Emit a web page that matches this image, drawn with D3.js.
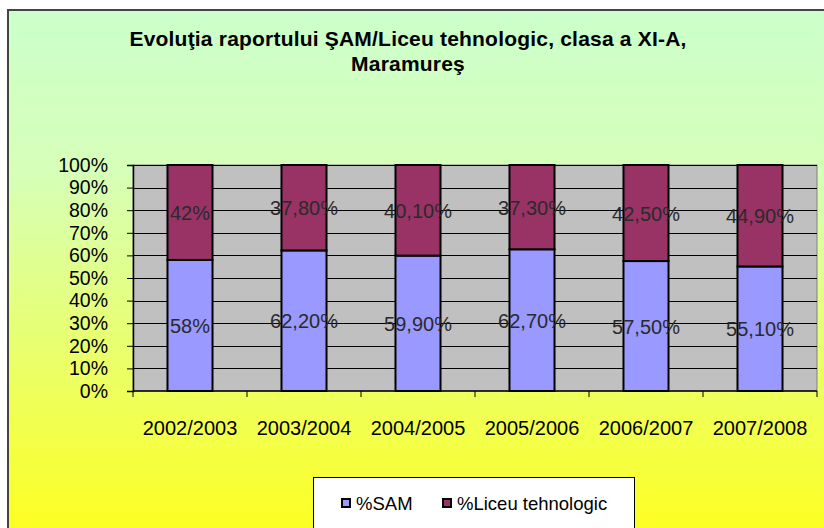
<!DOCTYPE html>
<html><head><meta charset="utf-8">
<script src="https://cdn.jsdelivr.net/npm/d3@7"></script>
<style>body{margin:0;background:#fff}svg{display:block}</style>
</head><body>
<svg id="c" width="824" height="528"></svg>
<script>
const categories = ["2002/2003","2003/2004","2004/2005","2005/2006","2006/2007","2007/2008"];
const samValues = [58, 62.2, 59.9, 62.7, 57.5, 55.1];
const liceuValues = [42, 37.8, 40.1, 37.3, 42.5, 44.9];
const samLabels = ["58%","62,20%","59,90%","62,70%","57,50%","55,10%"];
const liceuLabels = ["42%","37,80%","40,10%","37,30%","42,50%","44,90%"];
const seriesNames = ["%SAM","%Liceu tehnologic"];
const yTicks = [0,10,20,30,40,50,60,70,80,90,100];

const svg = d3.select("#c");
const defs = svg.append("defs");
const g = defs.append("linearGradient").attr("id","bg").attr("x1",0).attr("y1",0).attr("x2",0).attr("y2",1);
g.append("stop").attr("offset","0").attr("stop-color","#ccffcc");
g.append("stop").attr("offset","0.3").attr("stop-color","#d6ffb8");
g.append("stop").attr("offset","1").attr("stop-color","#ffff1a");

svg.append("rect").attr("x",8).attr("y",10).attr("width",830).attr("height",540)
  .attr("fill","url(#bg)").attr("stroke","#444").attr("stroke-width",2);

const font = "'Liberation Sans', Arial, sans-serif";
svg.append("text").attr("x",408).attr("y",46).attr("text-anchor","middle")
  .attr("font-family",font).attr("font-weight","bold").attr("font-size",21).attr("fill","#000")
  .attr("letter-spacing",0.2)
  .text("Evoluţia raportului ŞAM/Liceu tehnologic, clasa a XI-A,");
svg.append("text").attr("x",408).attr("y",71).attr("text-anchor","middle")
  .attr("font-family",font).attr("font-weight","bold").attr("font-size",21).attr("fill","#000")
  .attr("letter-spacing",0.2)
  .text("Maramureş");

const L=133, R=817, T=165, B=391;
const x = d3.scaleBand().domain(categories).range([L,R]).paddingInner(0.605).paddingOuter(0.3025);
const y = d3.scaleLinear().domain([0,100]).range([B,T]);

svg.append("rect").attr("x",L).attr("y",T).attr("width",R-L).attr("height",B-T)
  .attr("fill","#c0c0c0").attr("stroke","#808080").attr("stroke-width",1);

svg.append("g").selectAll("line").data(yTicks.slice(1)).join("line")
  .attr("x1",L).attr("x2",R).attr("y1",d=>Math.round(y(d))+0.5).attr("y2",d=>Math.round(y(d))+0.5)
  .attr("stroke","#000").attr("stroke-width",1);

const data = categories.map((c,i)=>({c, sam:samValues[i], lic:liceuValues[i], sl:samLabels[i], ll:liceuLabels[i]}));

const bars = svg.append("g");
bars.selectAll("rect.sam").data(data).join("rect").attr("class","sam")
  .attr("x",d=>x(d.c)).attr("width",x.bandwidth())
  .attr("y",d=>y(d.sam)).attr("height",d=>y(0)-y(d.sam))
  .attr("fill","#9999ff").attr("stroke","#000").attr("stroke-width",2);
bars.selectAll("rect.lic").data(data).join("rect").attr("class","lic")
  .attr("x",d=>x(d.c)).attr("width",x.bandwidth())
  .attr("y",d=>y(d.sam+d.lic)).attr("height",d=>y(d.sam)-y(d.sam+d.lic))
  .attr("fill","#993366").attr("stroke","#000").attr("stroke-width",2);

const lab = svg.append("g").attr("font-family",font).attr("font-size",20).attr("fill","#2a2a2a").attr("text-anchor","middle");
lab.selectAll("text.s").data(data).join("text").attr("class","s")
  .attr("x",d=>x(d.c)+x.bandwidth()/2).attr("y",d=>y(d.sam/2)+7.5).text(d=>d.sl);
lab.selectAll("text.l").data(data).join("text").attr("class","l")
  .attr("x",d=>x(d.c)+x.bandwidth()/2).attr("y",d=>y(d.sam+d.lic/2)+7.5).text(d=>d.ll);

// y axis
const ya = svg.append("g").attr("transform",`translate(${L},0)`)
  .call(d3.axisLeft(y).tickValues(yTicks).tickFormat(d=>d+"%").tickSize(6).tickPadding(19));
ya.select(".domain").attr("stroke","#000").attr("stroke-width",1.5);
ya.selectAll(".tick line").attr("stroke","#000");
ya.selectAll("text").attr("font-family",font).attr("font-size",19.5).attr("fill","#000");

// x axis
const xa = svg.append("g").attr("transform",`translate(0,${B})`);
xa.append("line").attr("x1",L).attr("x2",R).attr("y1",0).attr("y2",0).attr("stroke","#000").attr("stroke-width",1.5);
const step = x.step();
const bounds = d3.range(categories.length+1).map(i=>L+i*step);
xa.selectAll("line.t").data(bounds).join("line").attr("class","t")
  .attr("x1",d=>d).attr("x2",d=>d).attr("y1",0).attr("y2",6).attr("stroke","#000");
xa.selectAll("text").data(categories).join("text")
  .attr("x",d=>x(d)+x.bandwidth()/2).attr("y",43.5).attr("text-anchor","middle")
  .attr("font-family",font).attr("font-size",20).attr("fill","#000").text(d=>d);

// legend
const lg = svg.append("g");
lg.append("rect").attr("x",313.5).attr("y",477.5).attr("width",321).attr("height",70)
  .attr("fill","#fff").attr("stroke","#000").attr("stroke-width",1);
const colors = ["#9999ff","#993366"];
const lx = [342, 443];
seriesNames.forEach((n,i)=>{
  lg.append("rect").attr("x",lx[i]).attr("y",499).attr("width",8).attr("height",8)
    .attr("fill",colors[i]).attr("stroke","#000").attr("stroke-width",2);
  lg.append("text").attr("x",lx[i]+14).attr("y",510).attr("font-family",font).attr("font-size",18.5)
    .attr("fill","#000").text(n);
});
</script>
</body></html>
